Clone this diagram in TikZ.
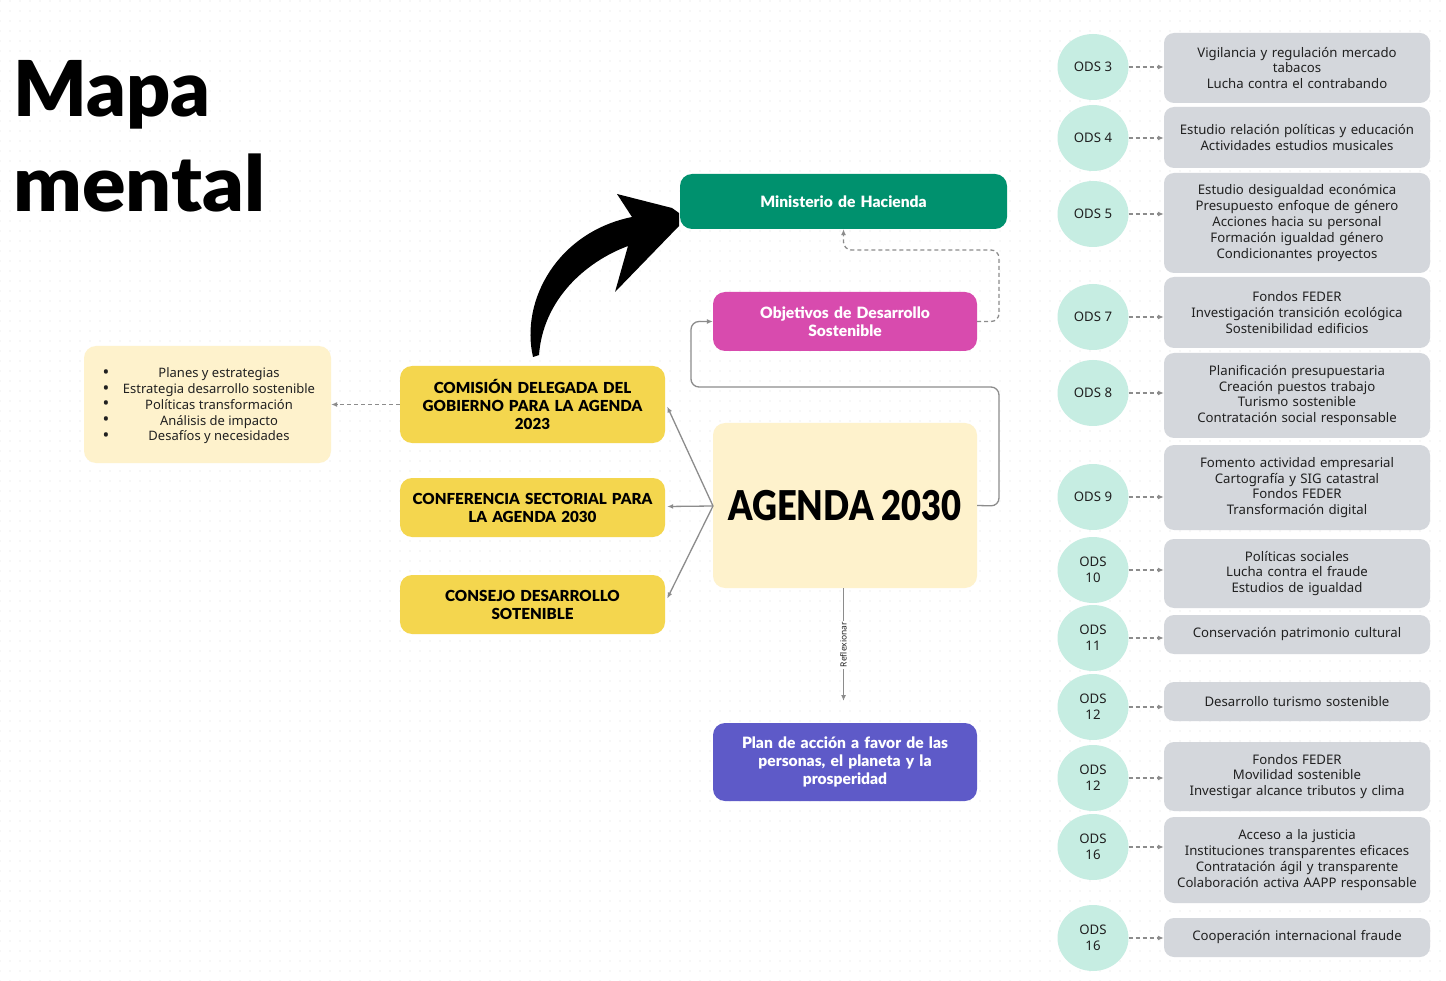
\documentclass[tikz,border=0pt]{standalone}
\usepackage{fontspec}
\usepackage{graphicx}
\setmainfont{Noto Sans}
\newfontfamily\titlefont{Lato Black}
\newfontfamily\bfont{Lato Black}
\usetikzlibrary{arrows.meta,patterns.meta,calc,shapes.geometric}
\definecolor{yel}{HTML}{F4D64E}
\definecolor{cream}{HTML}{FEF2CC}
\definecolor{hgreen}{HTML}{00916E}
\definecolor{magen}{HTML}{D84BAE}
\definecolor{purp}{HTML}{5E5AC8}
\definecolor{gbg}{HTML}{D4D7DC}
\definecolor{mint}{HTML}{C6EDE2}
\definecolor{lgray}{HTML}{8C8C8C}
\definecolor{dotc}{HTML}{EFEFEF}
\definecolor{txt}{HTML}{202020}
\newcommand\odsrow[6]{%
  \node[odsc] (c#1) at (1093,#2) {#5};
  \node[gbox, minimum height=#4pt] (b#1) at (1297,#3) {#6};
  \draw[dconn] (c#1.east) -- (c#1.east -| b#1.west);
}
\begin{document}
\begin{tikzpicture}[x=1pt,y=-1pt,
  ybox/.style={fill=yel, rounded corners=12pt, minimum width=265pt, align=center, text width=260pt,
    font=\bfont\fontsize{15.2}{18}\selectfont, text=black, inner sep=0pt},
  cbox/.style={rounded corners=12pt, minimum width=264pt, align=center, text width=255pt,
    font=\bfont\fontsize{15.6}{18}\selectfont, text=white, inner sep=0pt},
  gbox/.style={fill=gbg, rounded corners=10pt, minimum width=266pt, text width=260pt, align=center,
    font=\fontsize{13.2}{15.8}\selectfont, text=txt, inner sep=0pt},
  odsc/.style={ellipse, fill=mint, minimum width=71pt, minimum height=66pt, inner sep=0pt, align=center,
    font=\fontsize{13.2}{16}\selectfont, text=txt},
  conn/.style={draw=lgray, line width=1.3pt, -{Latex[length=6pt,width=5pt]}},
  dconn/.style={draw=lgray, line width=1.3pt, dash pattern=on 4pt off 3pt, -{Latex[length=6pt,width=5pt]}},
]
\useasboundingbox (0,0) rectangle (1446,981);
\fill[white] (0,0) rectangle (1446,981);
\fill[pattern={Dots[distance=10pt,radius=0.8pt]}, pattern color=dotc] (0,0) rectangle (1446,981);

% title
\node[anchor=base west, inner sep=0pt, font=\titlefont\fontsize{77}{77}\selectfont] (t1) at (13,117) {Mapa};
\node[anchor=base west, inner sep=0pt, font=\titlefont\fontsize{77}{77}\selectfont] (t2) at (13,212) {\scalebox{1.05}[1]{mental}};

% left box
\node[fill=cream, rounded corners=12pt, minimum width=247pt, minimum height=117pt, inner sep=0pt] (lbox) at (207.5,404.5) {};
\node[align=center, inner sep=0pt, font=\fontsize{13}{15.7}\selectfont, text=txt] (ltext) at (219,406)
  {Planes y estrategias\\Estrategia desarrollo sostenible\\Políticas transformación\\Análisis de impacto\\Desafíos y necesidades};
\foreach \i/\yy in {1/374,2/389.7,3/405.4,4/421.1,5/436.8}
  \node[inner sep=0pt, font=\fontsize{18}{15}\selectfont, text=txt] (bul\i) at (106,\yy) {•};

% yellow boxes
\node[ybox, minimum height=77pt] (comision) at (532.5,404.5) {COMISIÓN DELEGADA DEL\\GOBIERNO PARA LA AGENDA\\2023};
\node[ybox, minimum height=59pt] (conferencia) at (532.5,507.5) {CONFERENCIA SECTORIAL PARA\\LA AGENDA 2030};
\node[ybox, minimum height=59pt] (consejo) at (532.5,604.5) {CONSEJO DESARROLLO\\SOTENIBLE};

% central
\node[fill=cream, rounded corners=12pt, minimum width=264pt, minimum height=165pt, inner sep=0pt,
  font=\bfont\fontsize{41}{41}\selectfont] (agenda) at (845,505.5) {\scalebox{0.84}[1]{AGENDA 2030}};
\node[cbox, fill=hgreen, minimum width=327pt, minimum height=55pt] (minis) at (843.5,201.5) {Ministerio de Hacienda};
\node[cbox, fill=magen, minimum height=59pt] (ods) at (845,321.5) {Objetivos de Desarrollo\\Sostenible};
\node[cbox, fill=purp, minimum height=78pt] (plan) at (845,762) {Plan de acción a favor de las\\personas, el planeta y la\\prosperidad};

% connectors
\coordinate (hub) at (713,506);
\draw[dconn] (comision.west) -- (lbox.east);
\draw[conn] (hub) -- ($(comision.east)+(2,2)$);
\draw[conn] (hub) -- ($(conferencia.east)+(2,-1)$);
\draw[conn] (hub) -- ($(consejo.east)+(2,-6)$);
\draw[conn, rounded corners=8pt] (agenda.east) -- (999,506) -- (999,387) -- (691,387) -- (691,321.5) -- (ods.west);
\draw[dconn, rounded corners=8pt] (ods.east) -- (999,321.5) -- (999,250) -- (843.5,250) -- (minis.south);
\coordinate (refl) at (843.5,701);
\draw[conn] (agenda.south -| refl) -- (refl) node[pos=0.5, rotate=90, fill=white, inner sep=1.5pt,
  font=\fontsize{8.5}{9}\selectfont, text=txt] (rlab) {Reflexionar};

% big black arrow
\fill[black] (533,357) .. controls (520,300) and (558,232) .. (632,217)
  -- (617,194) -- (672,208) -- (679,213) -- (679,226) -- (615,292) -- (628,246)
  .. controls (585,262) and (543,300) .. (539,355) -- cycle;

% right column
\odsrow{1}{67}{68}{70}{ODS 3}{Vigilancia y regulación mercado\\tabacos\\Lucha contra el contrabando}
\odsrow{2}{138}{137.5}{61}{ODS 4}{Estudio relación políticas y educación\\Actividades estudios musicales}
\odsrow{3}{214}{223}{100}{ODS 5}{Estudio desigualdad económica\\Presupuesto enfoque de género\\Acciones hacia su personal\\Formación igualdad género\\Condicionantes proyectos}
\odsrow{4}{317}{312.5}{71}{ODS 7}{Fondos FEDER\\Investigación transición ecológica\\Sostenibilidad edificios}
\odsrow{5}{393}{395.5}{85}{ODS 8}{Planificación presupuestaria\\Creación puestos trabajo\\Turismo sostenible\\Contratación social responsable}
\odsrow{6}{497}{487.5}{85}{ODS 9}{Fomento actividad empresarial\\Cartografía y SIG catastral\\Fondos FEDER\\Transformación digital}
\odsrow{7}{570}{573.5}{69}{ODS\\10}{Políticas sociales\\Lucha contra el fraude\\Estudios de igualdad}
\odsrow{8}{638}{634.5}{39}{ODS\\11}{Conservación patrimonio cultural}
\odsrow{9}{707}{701.5}{39}{ODS\\12}{Desarrollo turismo sostenible}
\odsrow{10}{778}{776.5}{69}{ODS\\12}{Fondos FEDER\\Movilidad sostenible\\Investigar alcance tributos y clima}
\odsrow{11}{847}{860}{86}{ODS\\16}{Acceso a la justicia\\Instituciones transparentes eficaces\\Contratación ágil y transparente\\Colaboración activa AAPP responsable}
\odsrow{12}{938}{937.5}{39}{ODS\\16}{Cooperación internacional fraude}
\end{tikzpicture}
\end{document}
